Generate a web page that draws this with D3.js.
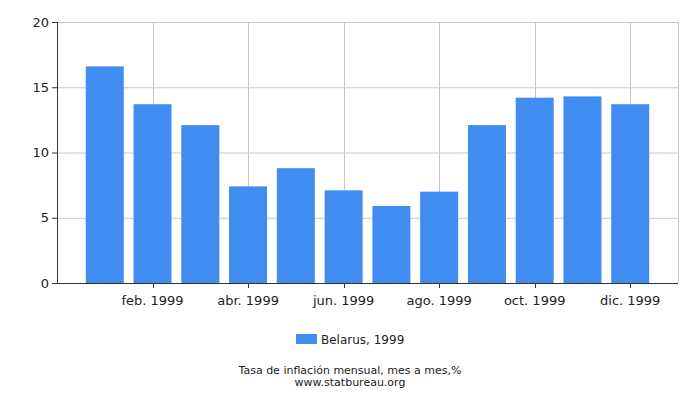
<!DOCTYPE html>
<html><head><meta charset="utf-8">
<script src="https://cdn.jsdelivr.net/npm/d3@7"></script>
<style>body{margin:0;background:#fff;font-family:"DejaVu Sans",sans-serif;}</style>
</head><body><div id="chart"></div>
<script>
const months = ["ene. 1999","feb. 1999","mar. 1999","abr. 1999","may. 1999","jun. 1999","jul. 1999","ago. 1999","sep. 1999","oct. 1999","nov. 1999","dic. 1999"];
const values = [16.6, 13.7, 12.1, 7.4, 8.8, 7.1, 5.9, 7.0, 12.1, 14.2, 14.3, 13.7];
const yTicks = [0, 5, 10, 15, 20];

const width = 700, height = 400;
const marginLeft = 57, marginRight = 22, marginTop = 22, marginBottom = 117;

const svg = d3.select("#chart").append("svg")
    .attr("width", width).attr("height", height);

const x = d3.scaleLinear().domain([-1, 12]).range([marginLeft, width - marginRight]);
const y = d3.scaleLinear().domain([0, 20]).range([height - marginBottom, marginTop]);
const barW = 38;

// grid
svg.append("g").selectAll("line").data(yTicks).enter().append("line")
    .attr("x1", marginLeft).attr("x2", width - marginRight)
    .attr("y1", d => y(d) + 0.5).attr("y2", d => y(d) + 0.5)
    .attr("stroke", "#c8c8c8");
const oddIdx = d3.range(1, 12, 2);
svg.append("g").selectAll("line").data(oddIdx).enter().append("line")
    .attr("x1", d => Math.round(x(d)) + 0.5).attr("x2", d => Math.round(x(d)) + 0.5)
    .attr("y1", marginTop).attr("y2", y(0))
    .attr("stroke", "#c8c8c8");
svg.append("line").attr("x1", width - marginRight + 0.5).attr("x2", width - marginRight + 0.5)
    .attr("y1", marginTop).attr("y2", y(0)).attr("stroke", "#c8c8c8");

// bars
svg.append("g").selectAll("rect").data(values).enter().append("rect")
    .attr("x", (d, i) => x(i) - barW / 2)
    .attr("width", barW)
    .attr("y", d => y(d))
    .attr("height", d => y(0) - y(d))
    .attr("fill", "#418cf0");

// axes
svg.append("line").attr("x1", marginLeft + 0.5).attr("x2", marginLeft + 0.5)
    .attr("y1", marginTop).attr("y2", y(0)).attr("stroke", "#333");
svg.append("line").attr("x1", marginLeft).attr("x2", width - marginRight)
    .attr("y1", y(0) + 0.5).attr("y2", y(0) + 0.5).attr("stroke", "#333");

svg.append("g").selectAll("line").data(yTicks).enter().append("line")
    .attr("x1", marginLeft - 5).attr("x2", marginLeft)
    .attr("y1", d => y(d) + 0.5).attr("y2", d => y(d) + 0.5).attr("stroke", "#333");
svg.append("g").selectAll("text").data(yTicks).enter().append("text")
    .attr("x", marginLeft - 8).attr("y", d => y(d) + 4.5)
    .attr("text-anchor", "end").style("font-size", "13px").attr("fill", "#222")
    .text(d => d);

svg.append("g").selectAll("line").data(oddIdx).enter().append("line")
    .attr("x1", d => Math.round(x(d)) + 0.5).attr("x2", d => Math.round(x(d)) + 0.5)
    .attr("y1", y(0)).attr("y2", y(0) + 5).attr("stroke", "#333");
svg.append("g").selectAll("text").data(oddIdx).enter().append("text")
    .attr("x", d => x(d)).attr("y", y(0) + 22)
    .attr("text-anchor", "middle").style("font-size", "13px").attr("fill", "#222")
    .text(d => months[d]);

// legend
svg.append("rect").attr("x", 296).attr("y", 334).attr("width", 21).attr("height", 10).attr("fill", "#418cf0");
svg.append("text").attr("x", 321).attr("y", 344).style("font-size", "12px").attr("fill", "#222").text("Belarus, 1999");

svg.append("text").attr("x", 350).attr("y", 374).attr("text-anchor", "middle")
    .style("font-size", "11px").attr("fill", "#222").text("Tasa de inflación mensual, mes a mes,%");
svg.append("text").attr("x", 350).attr("y", 386).attr("text-anchor", "middle")
    .style("font-size", "11px").attr("fill", "#222").text("www.statbureau.org");
</script></body></html>
